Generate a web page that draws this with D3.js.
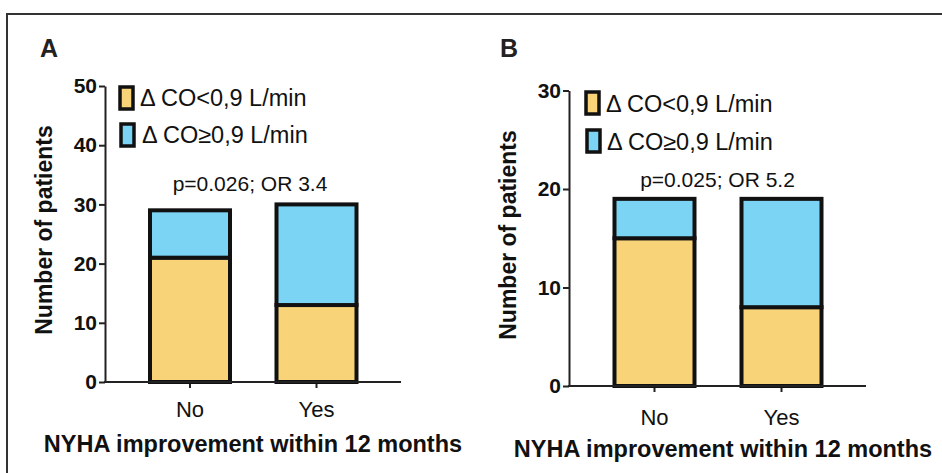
<!DOCTYPE html>
<html>
<head>
<meta charset="utf-8">
<script src="https://cdn.jsdelivr.net/npm/d3@7"></script>
<style>
  html, body { margin: 0; padding: 0; background: #fff; }
  svg { display: block; font-family: "Liberation Sans", Arial, Helvetica, sans-serif; }
</style>
</head>
<body>
<svg id="chart" width="942" height="473"></svg>
<script>
// ---- data ----
const categories = ["No", "Yes"];
const seriesLabels = ["Δ CO<0,9 L/min", "Δ CO≥0,9 L/min"];
const panelALow = [21, 13];
const panelAHigh = [8, 17];
const panelBLow = [15, 8];
const panelBHigh = [4, 11];
const panelATicks = [0, 10, 20, 30, 40, 50];
const panelBTicks = [0, 10, 20, 30];
const panelLabels = ["A", "B"];
const statLabels = ["p=0.026; OR 3.4", "p=0.025; OR 5.2"];
const yTitle = "Number of patients";
const xTitle = "NYHA improvement within 12 months";
const colors = ["#f8d378", "#7cd4f5"];

const svg = d3.select("#chart");

// outer frame (open to the right and bottom)
svg.append("path")
  .attr("d", "M7,480 L7,14 L950,14")
  .attr("fill", "none").attr("stroke", "#333").attr("stroke-width", 2);

const panels = [
  { low: panelALow, high: panelAHigh, ticks: panelATicks, label: panelLabels[0], stat: statLabels[0],
    axisX: 105, y0: 382, yTop: 86, xEnd: 401, bandStart: 150, bandStep: 126.5, bw: 80,
    lgX: 120, lgY: [87, 124], lgTextX: [140, 142], lgBase: [106, 143],
    statX: 250, statY: 191, labelX: 40, labelY: 57, yTitleX: 52, yTitleY: 230,
    xTitleX: 253, xTitleY: 452, tickY: 417 },
  { low: panelBLow, high: panelBHigh, ticks: panelBTicks, label: panelLabels[1], stat: statLabels[1],
    axisX: 569, y0: 386, yTop: 90.5, xEnd: 866, bandStart: 614.5, bandStep: 127, bw: 80,
    lgX: 586, lgY: [92, 130], lgTextX: [606, 607], lgBase: [112, 150],
    statX: 717.5, statY: 187, labelX: 500, labelY: 57, yTitleX: 516, yTitleY: 235,
    xTitleX: 723, xTitleY: 457, tickY: 425 }
];

panels.forEach(p => {
  const g = svg.append("g");
  const yMax = d3.max(p.ticks);
  const y = d3.scaleLinear().domain([0, yMax]).range([p.y0, p.yTop]);
  const x = d3.scaleBand().domain(categories)
    .range([p.bandStart, p.bandStart + p.bandStep + p.bw])
    .paddingInner(1 - p.bw / p.bandStep).paddingOuter(0);

  // y axis
  const yAxis = d3.axisLeft(y).tickValues(p.ticks).tickSize(6).tickSizeOuter(0).tickPadding(2);
  const ya = g.append("g").attr("transform", `translate(${p.axisX},0)`).call(yAxis);
  ya.select(".domain").attr("stroke", "#222").attr("stroke-width", 2);
  ya.selectAll(".tick line").attr("stroke", "#222").attr("stroke-width", 2);
  ya.selectAll(".tick text").attr("fill", "#111").attr("font-size", 21).attr("font-weight", "bold")
    .attr("font-family", "Liberation Sans, Arial, sans-serif");

  // x axis
  const xAxis = d3.axisBottom(x).tickSize(6).tickSizeOuter(0).tickPadding(10);
  const xa = g.append("g").attr("transform", `translate(0,${p.y0})`).call(xAxis);
  xa.select(".domain").remove();
  xa.selectAll(".tick line").attr("stroke", "#222").attr("stroke-width", 2);
  xa.selectAll(".tick text").attr("fill", "#111").attr("font-size", 22)
    .attr("font-family", "Liberation Sans, Arial, sans-serif")
    .attr("y", p.tickY - p.y0).attr("dy", 0);

  // bars (stacked)
  const rows = categories.map((c, i) => ({ cat: c, low: p.low[i], high: p.high[i] }));
  const stack = d3.stack().keys(["low", "high"])(rows);
  stack.forEach((layer, li) => {
    g.selectAll(null).data(layer).enter().append("rect")
      .attr("x", d => x(d.data.cat))
      .attr("width", x.bandwidth())
      .attr("y", d => y(d[1]))
      .attr("height", d => y(d[0]) - y(d[1]))
      .attr("fill", colors[li])
      .attr("stroke", "#111").attr("stroke-width", 4);
  });

  // x baseline drawn over bars
  g.append("line").attr("x1", p.axisX - 1).attr("x2", p.xEnd)
    .attr("y1", y(0)).attr("y2", y(0)).attr("stroke", "#222").attr("stroke-width", 2);

  // legend
  seriesLabels.forEach((s, i) => {
    g.append("rect").attr("x", p.lgX + i).attr("y", p.lgY[i]).attr("width", 13).attr("height", 22)
      .attr("fill", colors[i]).attr("stroke", "#111").attr("stroke-width", 3.5);
    g.append("text").attr("x", p.lgTextX[i]).attr("y", p.lgBase[i])
      .attr("font-size", 23.5).attr("fill", "#111").text(s);
  });

  // stats
  g.append("text").attr("x", p.statX).attr("y", p.statY).attr("text-anchor", "middle")
    .attr("font-size", 21).attr("fill", "#111").text(p.stat);

  // panel label
  g.append("text").attr("x", p.labelX).attr("y", p.labelY).attr("font-size", 25)
    .attr("font-weight", "bold").attr("fill", "#222").text(p.label);

  // y title
  g.append("text").attr("transform", `translate(${p.yTitleX},${p.yTitleY}) rotate(-90)`)
    .attr("text-anchor", "middle").attr("font-size", 23).attr("font-weight", "bold")
    .attr("fill", "#111").text(yTitle);

  // x title
  g.append("text").attr("x", p.xTitleX).attr("y", p.xTitleY).attr("text-anchor", "middle")
    .attr("font-size", 23.5).attr("font-weight", "bold").attr("fill", "#111").text(xTitle);
});
</script>
</body>
</html>
